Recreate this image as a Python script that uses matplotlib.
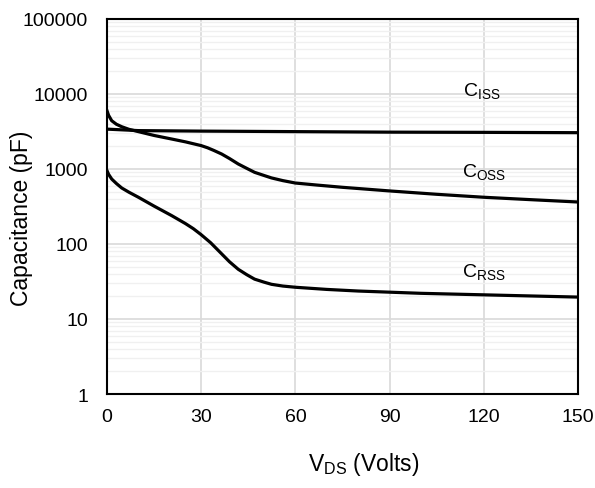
import numpy as np
import matplotlib.pyplot as plt

plt.rcParams['font.family'] = ['Liberation Sans', 'DejaVu Sans']

# capacitance vs drain-source voltage
vds_iss = [0, 10, 30, 60, 90, 120, 150]
ciss = [3400, 3250, 3200, 3150, 3100, 3080, 3050]

vds_oss = [0, 0.5, 1.5, 3, 4.7, 7, 10, 15, 20.6, 25, 30, 32, 34, 36.5, 39, 41.8, 44.5,
           47, 50, 52.4, 56, 60, 67, 75, 90, 105, 120, 135, 150]
coss = [5980, 5200, 4400, 3950, 3660, 3380, 3150, 2800, 2510, 2300, 2050, 1920, 1770,
        1585, 1380, 1166, 1020, 903, 820, 760, 700, 650, 610, 570, 510, 460, 420, 390, 363]

vds_rss = [0, 0.5, 1.5, 3, 4.7, 7, 10, 15, 20.6, 22.5, 25, 27.5, 30, 33, 36.5, 39, 41.8,
           44.5, 47, 50, 52.4, 56, 60, 70, 80, 100, 120, 150]
crss = [950, 850, 735, 640, 558, 490, 420, 320, 239, 215, 187, 160, 133, 104, 74, 58, 46,
        39, 34, 31, 29, 27.5, 26.5, 24.8, 23.6, 22, 21, 19.6]

labels = ['C$_{\\mathregular{ISS}}$', 'C$_{\\mathregular{OSS}}$', 'C$_{\\mathregular{RSS}}$']
label_x = [119.5, 120, 120]
label_y = [11000, 910, 42]

xticks = [0, 30, 60, 90, 120, 150]

fig = plt.figure(figsize=(5.95, 4.89), dpi=100)
ax = fig.add_axes([107/595, 1-395/489, 471/595, 375/489])

ax.plot(vds_iss, ciss, color='black', lw=2.3)
ax.plot(vds_oss, coss, color='black', lw=2.3)
ax.plot(vds_rss, crss, color='black', lw=2.3)

for t, x, y in zip(labels, label_x, label_y):
    ax.text(x, y, t, ha='center', va='center', fontsize=14)

ax.set_yscale('log')
ax.set_ylim(1, 100000)
ax.set_xlim(0, 150)
ax.set_xticks(xticks)
ax.set_yticks([1, 10, 100, 1000, 10000, 100000])
ax.set_yticklabels(['1', '10', '100', '1000', '10000', '100000'])
ax.yaxis.set_minor_locator(plt.matplotlib.ticker.LogLocator(base=10, subs=np.arange(2, 10), numticks=20))
ax.yaxis.set_minor_formatter(plt.NullFormatter())

ax.grid(True, which='major', color='#d9d9d9', lw=1.2)
ax.grid(True, which='minor', axis='y', color='#f0f0f0', lw=1.0)
ax.set_axisbelow(True)

ax.tick_params(which='both', length=0, labelsize=14)
ax.tick_params(axis='x', pad=10)
ax.tick_params(axis='y', pad=13.5)
for s in ax.spines.values():
    s.set_linewidth(1.5)
    s.set_color('black')

fig.text(22/595, 1-218/489, 'Capacitance (pF)', rotation=90, ha='center', va='center', fontsize=16.5)
fig.text(364/595, 1-465/489, 'V$_{\\mathregular{DS}}$ (Volts)', ha='center', va='center', fontsize=16.5)

fig.savefig('out.png', dpi=100)
